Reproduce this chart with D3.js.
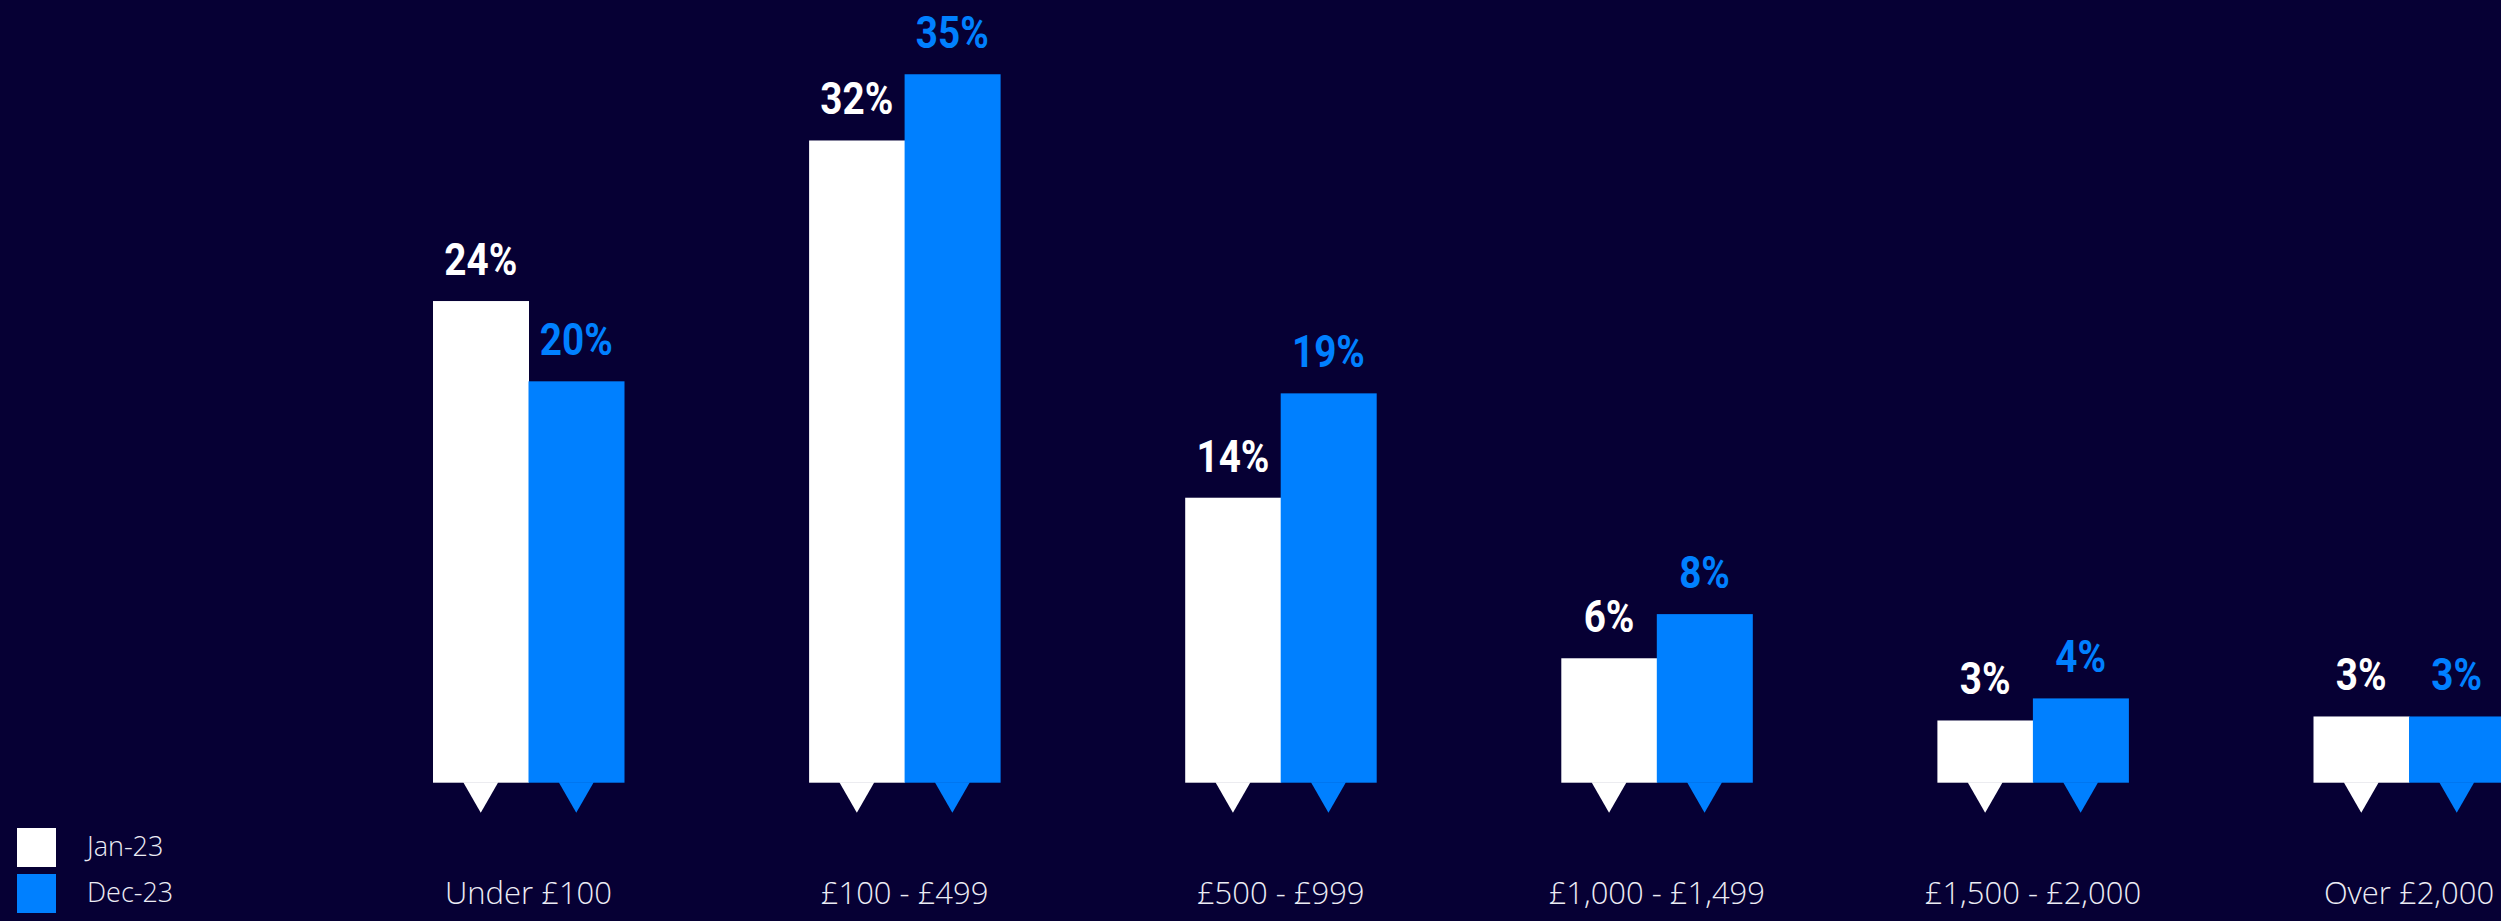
<!DOCTYPE html>
<html>
<head>
<meta charset="utf-8">
<script src="https://cdn.jsdelivr.net/npm/d3@7"></script>
<style>
  html, body { margin: 0; padding: 0; background: #060034; }
  svg { display: block; }
  .val { font-family: Roboto, "DejaVu Sans Condensed", sans-serif; font-weight: 700; font-size: 45px; }
  .cat text { font-family: "Open Sans", "Noto Sans", sans-serif; font-weight: 300; font-size: 31px; fill: #ececf4; }
  .legend text { font-family: "Open Sans", "Noto Sans", sans-serif; font-weight: 300; font-size: 27px; fill: #ececf4; }
</style>
</head>
<body>
<svg id="chart" width="2501" height="921"></svg>
<script>
// Spending bands
const categories = ["Under £100", "£100 - £499", "£500 - £999", "£1,000 - £1,499", "£1,500 - £2,000", "Over £2,000"];
// Survey waves
const seriesNames = ["Jan-23", "Dec-23"];
// Share of respondents (%) per band
const jan23 = [24, 32, 14.2, 6.2, 3.1, 3.3];
const dec23 = [20, 35.3, 19.4, 8.4, 4.2, 3.3];

const seriesColors = ["#ffffff", "#0080ff"];
const W = 2501, H = 921;
const baseY = 782.7;

const svg = d3.select("#chart");
svg.append("rect").attr("width", W).attr("height", H).attr("fill", "#060034");

const x0 = d3.scaleBand()
  .domain(categories)
  .range([433, 433 + 5 * 376.1 + 191])
  .paddingInner(1 - 191 / 376.1)
  .paddingOuter(0);

const x1 = d3.scaleBand()
  .domain(seriesNames)
  .range([0, x0.bandwidth()])
  .padding(0);

const y = d3.scaleLinear().domain([0, 39]).range([baseY, 0]);

const rows = categories.map((c, i) => ({
  cat: c,
  vals: [
    { s: seriesNames[0], v: jan23[i] },
    { s: seriesNames[1], v: dec23[i] }
  ]
}));

const color = d3.scaleOrdinal().domain(seriesNames).range(seriesColors);

const groups = svg.append("g").selectAll("g.grp")
  .data(rows).join("g")
  .attr("class", "grp")
  .attr("transform", d => `translate(${x0(d.cat)},0)`);

// bars
groups.selectAll("rect")
  .data(d => d.vals).join("rect")
  .attr("x", d => x1(d.s))
  .attr("y", d => y(d.v))
  .attr("width", x1.bandwidth() + 0.5)
  .attr("height", d => baseY - y(d.v))
  .attr("fill", d => color(d.s));

// pointer triangles below each bar
const triHalf = 17.5, triH = 30;
groups.selectAll("path.tri")
  .data(d => d.vals).join("path")
  .attr("class", "tri")
  .attr("d", d => {
    const cx = x1(d.s) + x1.bandwidth() / 2;
    return `M${cx - triHalf},${baseY - 0.5}L${cx + triHalf},${baseY - 0.5}L${cx},${baseY + triH}Z`;
  })
  .attr("fill", d => color(d.s));

// value labels, horizontally condensed
groups.selectAll("text.val")
  .data(d => d.vals).join("text")
  .attr("class", "val")
  .attr("transform", d => `translate(${x1(d.s) + x1.bandwidth() / 2},${y(d.v) - 26}) scale(0.86,1)`)
  .attr("text-anchor", "middle")
  .attr("fill", d => color(d.s))
  .text(d => Math.round(d.v) + "%");

// category axis
const xAxis = d3.axisBottom(x0).tickSize(0).tickPadding(0);
const axisG = svg.append("g")
  .attr("class", "cat")
  .attr("transform", `translate(0,${903.7})`)
  .call(xAxis);
axisG.select(".domain").remove();
axisG.selectAll("text").attr("dy", null).attr("y", 0);

// legend
const legend = svg.append("g").attr("class", "legend");
const lg = legend.selectAll("g").data(seriesNames).join("g")
  .attr("transform", (d, i) => `translate(17,${828 + i * 46})`);
lg.append("rect").attr("width", 39).attr("height", 39).attr("fill", d => color(d));
lg.append("text").attr("x", 70).attr("y", 28).text(d => d);
</script>
</body>
</html>
